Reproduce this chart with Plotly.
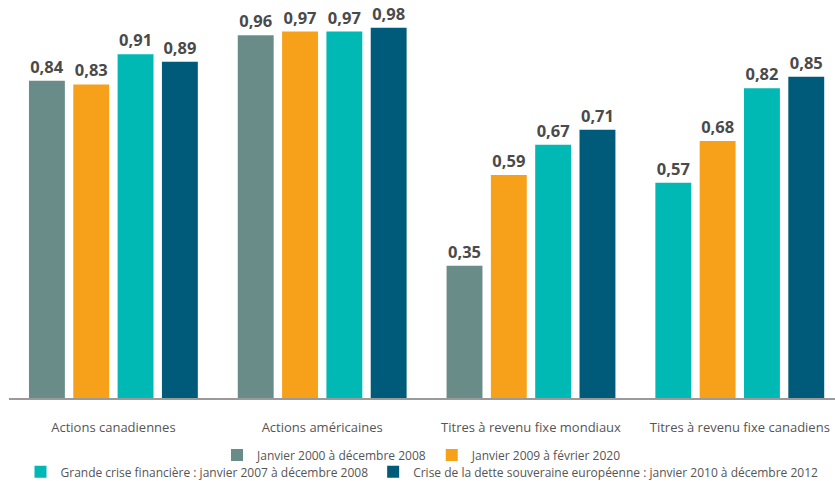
import plotly.graph_objects as go

categories = ["Actions canadiennes", "Actions américaines", "Titres à revenu fixe mondiaux", "Titres à revenu fixe canadiens"]
series_names = [
    "Janvier 2000 à décembre 2008",
    "Janvier 2009 à février 2020",
    "Grande crise financière : janvier 2007 à décembre 2008",
    "Crise de la dette souveraine européenne : janvier 2010 à décembre 2012",
]
s1 = [0.84, 0.96, 0.35, 0.57]
s2 = [0.83, 0.97, 0.59, 0.68]
s3 = [0.91, 0.97, 0.67, 0.82]
s4 = [0.89, 0.98, 0.71, 0.85]

GRAY = "#6a8c88"
ORANGE = "#f7a11b"
TEAL = "#00b8b4"
NAVY = "#005a7a"

# the reference draws the last bar of the first series in teal
s1_colors = [GRAY, GRAY, GRAY, TEAL]
colors = [s1_colors, ORANGE, TEAL, NAVY]
values = [s1, s2, s3, s4]
legends = ["legend", "legend", "legend2", "legend2"]

fig = go.Figure()
for name, vals, col, lg in zip(series_names, values, colors, legends):
    fig.add_trace(go.Bar(
        x=categories, y=vals, name=name,
        marker=dict(color=col, line=dict(width=0)),
        texttemplate="%{y:.2f}", textposition="outside",
        textfont=dict(family="Open Sans", size=16.5, color="#4a4a4a", weight=700),
        cliponaxis=False, legend=lg,
    ))

fig.update_layout(
    width=835, height=481,
    margin=dict(l=9, r=0, t=10, b=83, autoexpand=False),
    paper_bgcolor="white", plot_bgcolor="white",
    barmode="group", bargap=0.151, bargroupgap=0.19,
    separators=", ",
    font=dict(family="Open Sans", color="#555555"),
    xaxis=dict(
        range=[-0.5, 3.456], showline=True, linecolor="#9a9a9a", linewidth=2,
        showgrid=False, ticks="", tickfont=dict(size=13, color="#555555"),
        ticklabelstandoff=16, automargin=False,
    ),
    yaxis=dict(range=[0, 1.027], visible=False, showgrid=False, automargin=False),
    legend=dict(orientation="h", x=0.5, xanchor="center", yref="container", y=0.054, yanchor="middle",
                font=dict(size=12, color="#555555"), itemwidth=30, tracegroupgap=0,
                bgcolor="rgba(0,0,0,0)"),
    legend2=dict(orientation="h", x=0.5, xanchor="center", yref="container", y=0.019, yanchor="middle",
                 font=dict(size=12, color="#555555"), itemwidth=30, tracegroupgap=0,
                 bgcolor="rgba(0,0,0,0)"),
)
fig.write_html("out.html")
